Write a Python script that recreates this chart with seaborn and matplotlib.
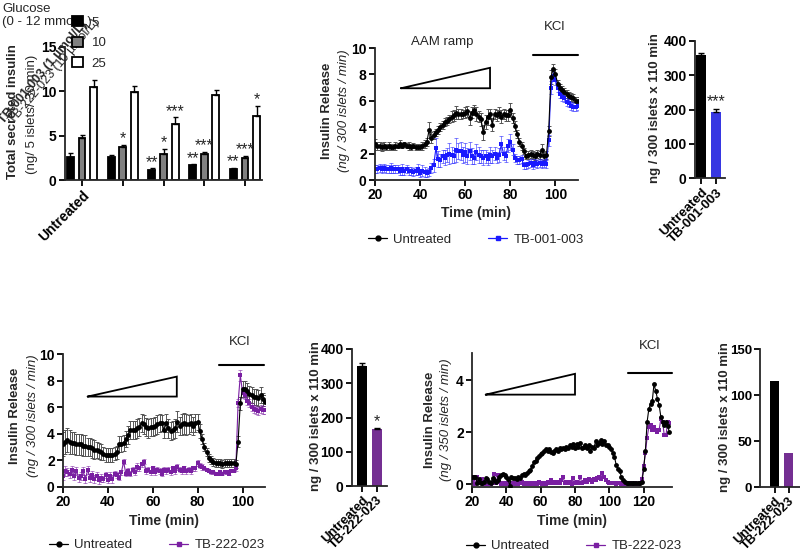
import numpy as np
import pandas as pd
import matplotlib
matplotlib.use("Agg")
import matplotlib.pyplot as plt
import seaborn as sns
from matplotlib.lines import Line2D
from matplotlib.patches import Patch
from matplotlib.container import BarContainer

# ---------------- data ----------------
# Panel A: grouped bars (glucose levels)
A_groups = ["Untreated", "TB-001-003 (1 µmol/L)", "TB-001-003 (10 µmol/L)",
            "TB-222-023 (1 µmol/L)", "TB-222-023 (10 µmol/L)"]
A_glucose = ["5", "10", "25"]
A_black = [2.6, 2.6, 1.1, 1.65, 1.25]
A_black_err = [0.45, 0.25, 0.25, 0.1, 0.12]
A_gray = [4.75, 3.7, 2.95, 2.9, 2.5]
A_gray_err = [0.35, 0.3, 0.6, 0.3, 0.25]
A_white = [10.45, 9.9, 6.3, 9.55, 7.2]
A_white_err = [0.85, 0.7, 0.75, 0.6, 1.2]
A_black_sig = ["", "", "**", "**", "**"]
A_gray_sig = ["", "*", "*", "***", "***"]
A_white_sig = ["", "", "***", "", "*"]

# Panel B: perifusion, TB-001-003
B_time = list(range(20, 111))
B_untr = [2.7, 2.6, 2.6, 2.5, 2.6, 2.5, 2.6, 2.5, 2.5, 2.6,
          2.6, 2.7, 2.6, 2.7, 2.6, 2.6, 2.5, 2.6, 2.5, 2.5,
          2.5, 2.6, 2.7, 2.9, 3.8, 3.2, 3.4, 3.6, 3.8, 4.0,
          4.2, 4.4, 4.5, 4.6, 4.8, 4.9, 5.1, 5.0, 5.0, 5.0,
          5.1, 5.2, 4.7, 5.1, 5.3, 5.0, 4.8, 4.6, 3.6, 4.4,
          4.8, 5.0, 4.2, 5.0, 4.9, 5.1, 4.8, 5.0, 4.9, 4.9,
          5.3, 4.7, 4.1, 3.5, 2.9, 2.6, 2.2, 1.8, 1.9, 2.0,
          1.9, 1.8, 2.0, 1.9, 2.3, 1.8, 1.9, 3.7, 7.8, 8.4,
          8.0, 7.3, 7.0, 6.8, 6.7, 6.5, 6.4, 6.3, 6.2, 6.0, 6.0]
B_untr_err = [0.4, 0.3, 0.3, 0.3, 0.3, 0.2, 0.3, 0.2, 0.2, 0.3,
              0.2, 0.3, 0.2, 0.2, 0.2, 0.3, 0.2, 0.2, 0.2, 0.2,
              0.2, 0.3, 0.3, 0.3, 0.6, 0.4, 0.3, 0.3, 0.3, 0.3,
              0.3, 0.3, 0.3, 0.3, 0.4, 0.4, 0.5, 0.4, 0.4, 0.3,
              0.4, 0.4, 0.5, 0.4, 0.4, 0.5, 0.4, 0.5, 0.6, 0.5,
              0.6, 0.4, 0.5, 0.4, 0.4, 0.4, 0.5, 0.4, 0.4, 0.4,
              0.5, 0.4, 0.4, 0.3, 0.3, 0.3, 0.2, 0.2, 0.3, 0.3,
              0.3, 0.3, 0.3, 0.3, 0.4, 0.3, 0.3, 0.4, 0.5, 0.4,
              0.4, 0.3, 0.3, 0.3, 0.3, 0.3, 0.3, 0.3, 0.3, 0.3, 0.3]
B_tb = [0.8, 0.8, 0.9, 0.8, 0.9, 0.8, 0.8, 0.9, 0.8, 0.8,
        0.8, 0.7, 0.8, 0.7, 0.8, 0.7, 0.7, 0.6, 0.7, 0.8,
        0.5, 0.7, 0.6, 0.5, 0.6, 0.9, 1.1, 2.4, 1.6, 1.5,
        1.8, 1.7, 1.9, 2.0, 1.9, 1.8, 2.3, 2.2, 2.2, 1.9,
        2.1, 1.8, 2.2, 1.8, 1.7, 2.1, 1.9, 1.8, 1.7, 1.8,
        1.6, 1.9, 1.8, 2.0, 1.7, 1.9, 2.7, 2.0, 1.8, 2.6,
        2.9, 2.3, 1.7, 1.5, 1.5, 1.6, 1.1, 1.1, 1.2, 1.3,
        1.1, 1.3, 1.2, 1.3, 1.2, 1.3, 1.2, 3.0, 7.0, 7.9,
        7.6, 7.0, 6.5, 6.3, 6.2, 5.9, 5.8, 5.6, 5.5, 5.5, 5.6]
B_tb_err = [0.3, 0.3, 0.3, 0.3, 0.3, 0.3, 0.3, 0.4, 0.3, 0.3,
            0.3, 0.3, 0.4, 0.3, 0.3, 0.3, 0.3, 0.3, 0.3, 0.4,
            0.3, 0.4, 0.4, 0.3, 0.3, 0.4, 0.5, 0.8, 0.6, 0.5,
            0.5, 0.6, 0.5, 0.8, 0.6, 0.5, 0.9, 0.6, 0.7, 0.6,
            0.7, 0.6, 0.7, 0.6, 0.5, 0.6, 0.6, 0.5, 0.6, 0.5,
            0.5, 0.6, 0.5, 0.5, 0.4, 0.5, 0.6, 0.5, 0.4, 0.5,
            0.6, 0.4, 0.3, 0.3, 0.3, 0.3, 0.3, 0.3, 0.3, 0.3,
            0.3, 0.3, 0.3, 0.3, 0.3, 0.3, 0.3, 0.4, 0.5, 0.4,
            0.4, 0.3, 0.3, 0.3, 0.3, 0.3, 0.3, 0.3, 0.3, 0.3, 0.3]

# Panel C: AUC TB-001-003
C_cats = ["Untreated", "TB-001-003"]
C_vals = [358, 193]
C_err = [8, 9]
C_sig = ["", "***"]

# Panel D: perifusion, TB-222-023
D_time = list(range(20, 111))
D_untr = [3.2, 3.4, 3.5, 3.4, 3.3, 3.3, 3.2, 3.2, 3.2, 3.1,
          3.1, 3.0, 3.0, 2.9, 2.8, 2.8, 2.7, 2.6, 2.5, 2.4,
          2.4, 2.4, 2.4, 2.5, 2.6, 3.2, 3.2, 3.3, 3.6, 3.9,
          4.3, 4.3, 4.3, 4.4, 4.5, 4.8, 4.7, 4.5, 4.4, 4.5,
          4.5, 4.6, 4.7, 4.8, 4.8, 4.3, 4.8, 4.4, 4.2, 4.3,
          4.4, 4.9, 4.6, 4.7, 4.8, 4.7, 4.7, 4.8, 4.6, 4.8,
          4.9, 4.2, 3.6, 3.0, 2.6, 2.2, 2.0, 1.9, 1.8, 1.8,
          1.8, 1.7, 1.8, 1.8, 1.8, 1.8, 1.8, 1.7, 3.4, 6.3,
          7.4, 7.4, 7.2, 7.0, 6.9, 6.8, 6.8, 6.7, 6.9, 6.6, 6.4]
D_untr_err = [0.9, 0.9, 0.9, 0.9, 0.8, 0.8, 0.8, 0.8, 0.8, 0.8,
              0.8, 0.7, 0.7, 0.7, 0.7, 0.6, 0.6, 0.6, 0.5, 0.5,
              0.5, 0.5, 0.5, 0.5, 0.5, 0.6, 0.6, 0.6, 0.6, 0.7,
              0.7, 0.7, 0.7, 0.7, 0.7, 0.7, 0.7, 0.7, 0.7, 0.7,
              0.7, 0.7, 0.7, 0.7, 0.6, 0.6, 0.7, 0.7, 0.7, 0.7,
              0.7, 0.8, 0.7, 0.8, 0.8, 0.8, 0.7, 0.7, 0.7, 0.7,
              0.6, 0.5, 0.4, 0.3, 0.3, 0.3, 0.3, 0.3, 0.3, 0.3,
              0.3, 0.3, 0.3, 0.3, 0.3, 0.3, 0.3, 0.3, 0.4, 0.5,
              0.6, 0.6, 0.6, 0.6, 0.6, 0.6, 0.6, 0.6, 0.6, 0.5, 0.5]
D_tb = [0.8, 1.2, 1.1, 1.0, 1.3, 0.8, 1.2, 0.7, 0.8, 1.2,
        0.6, 1.3, 0.7, 0.9, 0.6, 0.8, 0.5, 0.7, 0.6, 0.9,
        0.5, 0.8, 0.6, 1.0, 0.9, 0.7, 1.1, 1.9, 1.0, 1.2,
        1.0, 1.3, 1.1, 1.5, 1.4, 1.7, 1.9, 1.2, 1.3, 1.1,
        1.4, 1.1, 1.3, 1.2, 1.0, 1.3, 1.2, 1.3, 1.1, 1.4,
        1.2, 1.5, 1.3, 1.2, 1.4, 1.2, 1.3, 1.2, 1.4, 1.4,
        1.8, 1.6, 1.5, 1.4, 1.3, 1.2, 1.1, 1.1, 1.0, 1.0,
        1.1, 1.0, 1.1, 1.1, 1.0, 1.2, 1.2, 1.4, 6.3, 8.4,
        7.1, 6.9, 6.5, 6.3, 6.0, 5.9, 5.8, 5.7, 5.9, 5.8, 5.8]
D_tb_err = [0.3, 0.4, 0.3, 0.3, 0.3, 0.3, 0.3, 0.3, 0.3, 0.3,
            0.3, 0.3, 0.3, 0.3, 0.3, 0.3, 0.3, 0.3, 0.2, 0.2,
            0.2, 0.3, 0.3, 0.2, 0.2, 0.2, 0.2, 0.2, 0.2, 0.2,
            0.2, 0.2, 0.2, 0.3, 0.2, 0.2, 0.2, 0.2, 0.2, 0.2,
            0.2, 0.2, 0.2, 0.2, 0.2, 0.2, 0.2, 0.2, 0.2, 0.2,
            0.2, 0.2, 0.2, 0.2, 0.2, 0.2, 0.2, 0.2, 0.2, 0.2,
            0.2, 0.2, 0.2, 0.1, 0.1, 0.1, 0.1, 0.1, 0.1, 0.1,
            0.1, 0.1, 0.1, 0.1, 0.1, 0.1, 0.1, 0.2, 0.3, 0.4,
            0.4, 0.3, 0.3, 0.3, 0.3, 0.3, 0.3, 0.3, 0.3, 0.3, 0.3]

# Panel E: AUC TB-222-023
E_cats = ["Untreated", "TB-222-023"]
E_vals = [350, 165]
E_err = [8, 3]
E_sig = ["", "*"]

# Panel F: perifusion, TB-222-023 (350 islets)
F_time = list(range(20, 136))
F_untr = [0.3, 0.3, 0.3, 0.05, 0.2, 0.05, 0.05, 0.1, 0.25, 0.2,
          0.1, 0.05, 0.25, 0.15, 0.1, 0.15, 0.3, 0.35, 0.4, 0.35,
          0.3, 0.2, -0.05, 0.3, 0.25, 0.25, 0.2, 0.3, 0.25, 0.35,
          0.4, 0.35, 0.45, 0.5, 0.55, 0.7, 0.85, 0.9, 1.0, 1.1,
          1.15, 1.2, 1.3, 1.35, 1.3, 1.35, 1.25, 1.2, 1.3, 1.35,
          1.3, 1.4, 1.35, 1.4, 1.35, 1.45, 1.4, 1.5, 1.45, 1.55,
          1.4, 1.55, 1.45, 1.6, 1.4, 1.45, 1.5, 1.4, 1.5, 1.3,
          1.45, 1.4, 1.65, 1.5, 1.6, 1.7, 1.55, 1.65, 1.5, 1.5,
          1.45, 1.35, 1.2, 1.05, 0.75, 0.6, 0.5, 0.3, 0.15, 0.1,
          0.05, 0.05, 0.05, 0.05, 0.05, 0.05, 0.05, 0.05, 0.05, 0.1,
          0.6, 1.3, 2.4, 2.9, 3.1, 3.2, 3.85, 3.6, 3.3, 3.05,
          2.6, 2.4, 2.3, 2.4, 2.25, 2.0]
F_tb = [0.1, 0.3, 0.0, 0.3, 0.1, 0.05, 0.2, 0.0, 0.05, 0.0,
        0.05, 0.0, 0.05, 0.4, 0.05, 0.35, 0.1, 0.0, 0.05, 0.0,
        0.05, 0.0, 0.05, 0.0, 0.05, 0.0, 0.05, 0.0, 0.05, 0.1,
        0.0, 0.05, 0.0, 0.05, 0.0, 0.05, 0.0, 0.05, 0.0, 0.1,
        0.05, 0.0, 0.05, 0.0, 0.1, 0.05, 0.15, 0.05, 0.1, 0.05,
        0.1, 0.05, 0.15, 0.3, 0.05, 0.1, 0.05, 0.1, 0.0, 0.25,
        0.05, 0.1, 0.05, 0.3, 0.05, 0.1, 0.15, 0.1, 0.2, 0.15,
        0.1, 0.2, 0.15, 0.25, 0.3, 0.2, 0.45, 0.3, 0.15, 0.1,
        0.05, 0.05, 0.05, 0.05, 0.0, 0.05, 0.05, 0.0, 0.0, 0.05,
        0.0, 0.0, 0.05, 0.0, 0.0, 0.05, 0.0, 0.0, 0.05, 0.2,
        0.7, 1.2, 1.8, 2.2, 2.3, 2.1, 2.2, 2.1, 2.0, 2.1,
        2.5, 2.4, 1.9, 1.9, 2.4, 2.35]

# Panel G: AUC (350 islets experiment)
G_cats = ["Untreated", "TB-222-023"]
G_vals = [115, 37]

# ---------------- style ----------------
sns.set_theme(style="ticks")
plt.rcParams['font.family'] = ['Liberation Sans', 'DejaVu Sans']
plt.rcParams['font.size'] = 9
plt.rcParams['axes.linewidth'] = 1.3

BLACK = "#000000"
GRAY = "#808080"
BLUE = "#1a1aff"
PURPLE = "#7a1fa2"
FS = 9.5

W, H = 800, 553
fig = plt.figure(figsize=(8, 5.53), dpi=100)


def add_ax(l, r, t, b):
    return fig.add_axes([l / W, 1 - b / H, (r - l) / W, (b - t) / H])


def finish(ax, fs=10, pad=2, xfs=None):
    sns.despine(ax=ax)
    ax.spines['left'].set_linewidth(1.3)
    ax.spines['bottom'].set_linewidth(1.3)
    ax.tick_params(width=1.3, length=4, labelsize=fs, direction='out', pad=pad,
                   colors='black')
    if xfs is not None:
        ax.tick_params(axis='x', labelsize=xfs)
    for lab in ax.get_xticklabels() + ax.get_yticklabels():
        lab.set_fontweight('bold')
    ax.set_xlabel("")
    ax.set_ylabel("")


def px2fig(x, y):
    return x / W, 1 - y / H


# ---------------- Panel A ----------------
axA = add_ax(65, 262, 47, 180)
dfA = pd.DataFrame({
    "group": A_groups * 3,
    "glucose": [g for g in A_glucose for _ in A_groups],
    "value": A_black + A_gray + A_white,
})
sns.barplot(data=dfA, x="group", y="value", hue="glucose", order=A_groups,
            hue_order=A_glucose, palette=[BLACK, GRAY, "white"],
            edgecolor="black", linewidth=1.3, width=0.86, gap=0.42,
            legend=False, ax=axA)
errs = [A_black_err, A_gray_err, A_white_err]
vals = [A_black, A_gray, A_white]
sigs = [A_black_sig, A_gray_sig, A_white_sig]
bar_conts = [c for c in axA.containers if isinstance(c, BarContainer)]
for k, cont in enumerate(bar_conts):
    for j, bar in enumerate(list(cont)):
        xc = bar.get_x() + bar.get_width() / 2
        axA.errorbar([xc], [vals[k][j]], yerr=[[0], [errs[k][j]]], fmt='none',
                     ecolor='black', elinewidth=1.0, capsize=1.8, capthick=1.0)
        if sigs[k][j]:
            axA.annotate(sigs[k][j], (xc, vals[k][j] + errs[k][j]),
                         xytext=(0, 1.0), textcoords='offset points',
                         ha='center', va='baseline', fontsize=11.5)
axA.set_ylim(0, 15)
axA.set_yticks([0, 5, 10, 15])
axA.set_xlim(-0.42, 4.42)
axA.set_xticks(range(5))
axA.set_xticklabels(["Untreated", "", "", "", ""], rotation=45, ha='right',
                    rotation_mode='anchor')
finish(axA)
fig.text(*px2fig(13, 112), "Total secreted insulin", rotation=90, ha='center',
         va='center', fontweight='bold', fontsize=FS)
fig.text(*px2fig(32, 114), "(ng/ 5 islets/ 30 min)", rotation=90, ha='center',
         va='center', fontsize=FS)
# displaced labels (overlapping in the original figure)
fig.text(*px2fig(2, 9), "Glucose", fontsize=FS, ha='left', va='center')
fig.text(*px2fig(2, 22), "(0 - 12 mmol/L)", fontsize=FS, ha='left', va='center')
fig.text(*px2fig(6, 126), "TB-001-003 (1 µmol/L)", rotation=50, fontsize=9,
         ha='left', va='bottom', rotation_mode='anchor', fontweight='bold')
fig.text(*px2fig(16, 126), "TB-222-023 (10 µmol/L)", rotation=50, fontsize=9,
         ha='left', va='bottom', rotation_mode='anchor')
legA_handles = [Patch(facecolor=c, edgecolor='black', linewidth=1.3)
                for c in [BLACK, GRAY, "white"]]
fig.legend(legA_handles, A_glucose, loc='upper left',
           bbox_to_anchor=px2fig(72, 16), frameon=False, fontsize=FS,
           handlelength=0.8, handleheight=0.8, handletextpad=0.7,
           labelspacing=0.6, borderaxespad=0, borderpad=0)


# ---------------- time-series helper ----------------
def timeseries(ax, t, y_u, y_t, color, marker_t, err_u=None, err_t=None):
    if err_u is not None:
        ax.errorbar(t, y_u, yerr=err_u, fmt='none', ecolor='#555555',
                    elinewidth=0.7, capsize=1.5, capthick=0.7, zorder=1)
    if err_t is not None:
        ax.errorbar(t, y_t, yerr=err_t, fmt='none', ecolor=color, alpha=0.55,
                    elinewidth=0.7, capsize=1.5, capthick=0.7, zorder=1)
    sns.lineplot(x=t, y=y_u, color=BLACK, marker='o', markersize=3.5,
                 markeredgewidth=0, linewidth=0.8, ax=ax, zorder=3)
    sns.lineplot(x=t, y=y_t, color=color, marker=marker_t, markersize=3.5,
                 markeredgewidth=0, linewidth=0.8, ax=ax, zorder=2)


def ts_legend(center_x, y, label2, color2, marker2):
    h = [Line2D([], [], color=BLACK, marker='o', markersize=3.5, lw=0.9),
         Line2D([], [], color=color2, marker=marker2, markersize=3.5, lw=0.9)]
    fig.legend(h, ["Untreated", label2], loc='center',
               bbox_to_anchor=px2fig(center_x, y), ncol=2, frameon=False,
               fontsize=FS, handlelength=1.4, handletextpad=0.5,
               columnspacing=2.8, borderaxespad=0, borderpad=0)


def ramp(ax, x0, x1, y0, y1):
    ax.plot([x0, x1, x1, x0], [y0, y1, y0, y0], color='black', lw=1.3,
            clip_on=False, solid_joinstyle='miter')


# ---------------- Panel B ----------------
axB = add_ax(375, 578, 48, 180)
timeseries(axB, B_time, B_untr, B_tb, BLUE, 's', B_untr_err, B_tb_err)
axB.set_xlim(20, 110)
axB.set_ylim(0, 10)
axB.set_xticks([20, 40, 60, 80, 100])
axB.set_yticks([0, 2, 4, 6, 8, 10])
finish(axB)
axB.set_xlabel("Time (min)", fontweight='bold', fontsize=FS + 0.5, labelpad=3)
ramp(axB, 31.5, 71, 6.95, 8.5)
axB.text(50, 10.45, "AAM ramp", ha='center', va='center', fontsize=FS,
         clip_on=False)
axB.plot([90, 110], [9.47, 9.47], color='black', lw=1.5, clip_on=False)
axB.text(99.5, 11.6, "KCl", ha='center', va='center', fontsize=FS, clip_on=False)
fig.text(*px2fig(327, 111), "Insulin Release", rotation=90, ha='center',
         va='center', fontweight='bold', fontsize=FS)
fig.text(*px2fig(344, 111), "(ng / 300 islets / min)", rotation=90, ha='center',
         va='center', fontstyle='italic', fontsize=FS)
ts_legend(476, 240, "TB-001-003", BLUE, 's')


# ---------------- bar helper ----------------
def auc_bars(ax, cats, vals, colors, width, err=None, sig=None):
    sns.barplot(x=cats, y=vals, hue=cats, palette=colors, order=cats,
                hue_order=cats, width=width, legend=False, ax=ax,
                edgecolor='none')
    bars = sorted(list(ax.patches), key=lambda p: p.get_x())
    for j, bar in enumerate(bars):
        xc = bar.get_x() + bar.get_width() / 2
        if err is not None:
            ax.errorbar([xc], [vals[j]], yerr=[[0], [err[j]]], fmt='none',
                        ecolor='black', elinewidth=1.0, capsize=2.5,
                        capthick=1.0)
            top = vals[j] + err[j]
        else:
            top = vals[j]
        if sig is not None and sig[j]:
            ax.annotate(sig[j], (xc, top), xytext=(0, 2.0),
                        textcoords='offset points', ha='center',
                        va='baseline', fontsize=11.5)


# ---------------- Panel C ----------------
axC = add_ax(695, 725, 41, 178)
auc_bars(axC, C_cats, C_vals, [BLACK, BLUE], 0.67, C_err, C_sig)
axC.set_ylim(0, 400)
axC.set_yticks([0, 100, 200, 300, 400])
axC.set_xlim(-0.4, 1.6)
axC.set_xticks([0, 1])
axC.set_xticklabels(C_cats, rotation=45, ha='right', rotation_mode='anchor')
finish(axC, xfs=9.5)
fig.text(*px2fig(655, 108), "ng / 300 islets x 110 min", rotation=90,
         ha='center', va='center', fontweight='bold', fontsize=FS)

# ---------------- Panel D ----------------
axD = add_ax(63, 265, 354, 487)
timeseries(axD, D_time, D_untr, D_tb, PURPLE, 's', D_untr_err, D_tb_err)
axD.set_xlim(20, 110)
axD.set_ylim(0, 10)
axD.set_xticks([20, 40, 60, 80, 100])
axD.set_yticks([0, 2, 4, 6, 8, 10])
finish(axD)
axD.set_xlabel("Time (min)", fontweight='bold', fontsize=FS + 0.5, labelpad=3)
ramp(axD, 31, 70.7, 6.8, 8.3)
axD.plot([89.6, 109.5], [9.2, 9.2], color='black', lw=1.5, clip_on=False)
axD.text(98.5, 10.9, "KCl", ha='center', va='center', fontsize=FS, clip_on=False)
fig.text(*px2fig(15, 416), "Insulin Release", rotation=90, ha='center',
         va='center', fontweight='bold', fontsize=FS)
fig.text(*px2fig(33, 416), "(ng / 300 islets / min)", rotation=90, ha='center',
         va='center', fontstyle='italic', fontsize=FS)
ts_legend(157, 545, "TB-222-023", PURPLE, 's')

# ---------------- Panel E ----------------
axE = add_ax(352, 387, 349, 486)
auc_bars(axE, E_cats, E_vals, [BLACK, PURPLE], 0.69, E_err, E_sig)
axE.set_ylim(0, 400)
axE.set_yticks([0, 100, 200, 300, 400])
axE.set_xlim(-0.69, 1.72)
axE.set_xticks([0, 1])
axE.set_xticklabels(E_cats, rotation=45, ha='right', rotation_mode='anchor')
finish(axE, xfs=9.3)
fig.text(*px2fig(316, 416), "ng / 300 islets x 110 min", rotation=90,
         ha='center', va='center', fontweight='bold', fontsize=FS)

# ---------------- Panel F ----------------
axF = add_ax(472, 672, 353, 487)
timeseries(axF, F_time, F_untr, F_tb, PURPLE, 's')
axF.set_xlim(20, 136.5)
axF.set_ylim(-0.1, 5.05)
axF.set_xticks([20, 40, 60, 80, 100, 120])
axF.set_yticks([0, 2, 4])
finish(axF)
axF.set_xlabel("Time (min)", fontweight='bold', fontsize=FS + 0.5, labelpad=3)
ramp(axF, 28, 80, 3.45, 4.25)
axF.plot([111, 136.5], [4.3, 4.3], color='black', lw=1.5, clip_on=False)
axF.text(123.5, 5.3, "KCl", ha='center', va='center', fontsize=FS, clip_on=False)
fig.text(*px2fig(430, 420), "Insulin Release", rotation=90, ha='center',
         va='center', fontweight='bold', fontsize=FS)
fig.text(*px2fig(446, 420), "(ng / 350 islets / min)", rotation=90, ha='center',
         va='center', fontstyle='italic', fontsize=FS)
ts_legend(574, 546, "TB-222-023", PURPLE, 's')

# ---------------- Panel G ----------------
axG = add_ax(760, 802, 349, 487)
auc_bars(axG, G_cats, G_vals, [BLACK, PURPLE], 0.64)
axG.set_ylim(0, 150)
axG.set_yticks([0, 50, 100, 150])
axG.set_xlim(-1.04, 1.95)
axG.set_xticks([0, 1])
axG.set_xticklabels(G_cats, rotation=45, ha='right', rotation_mode='anchor')
finish(axG, fs=9.5, pad=1.5, xfs=9.3)
fig.text(*px2fig(725, 417), "ng / 300 islets x 110 min", rotation=90,
         ha='center', va='center', fontweight='bold', fontsize=FS)

fig.savefig("out.png", dpi=100)
